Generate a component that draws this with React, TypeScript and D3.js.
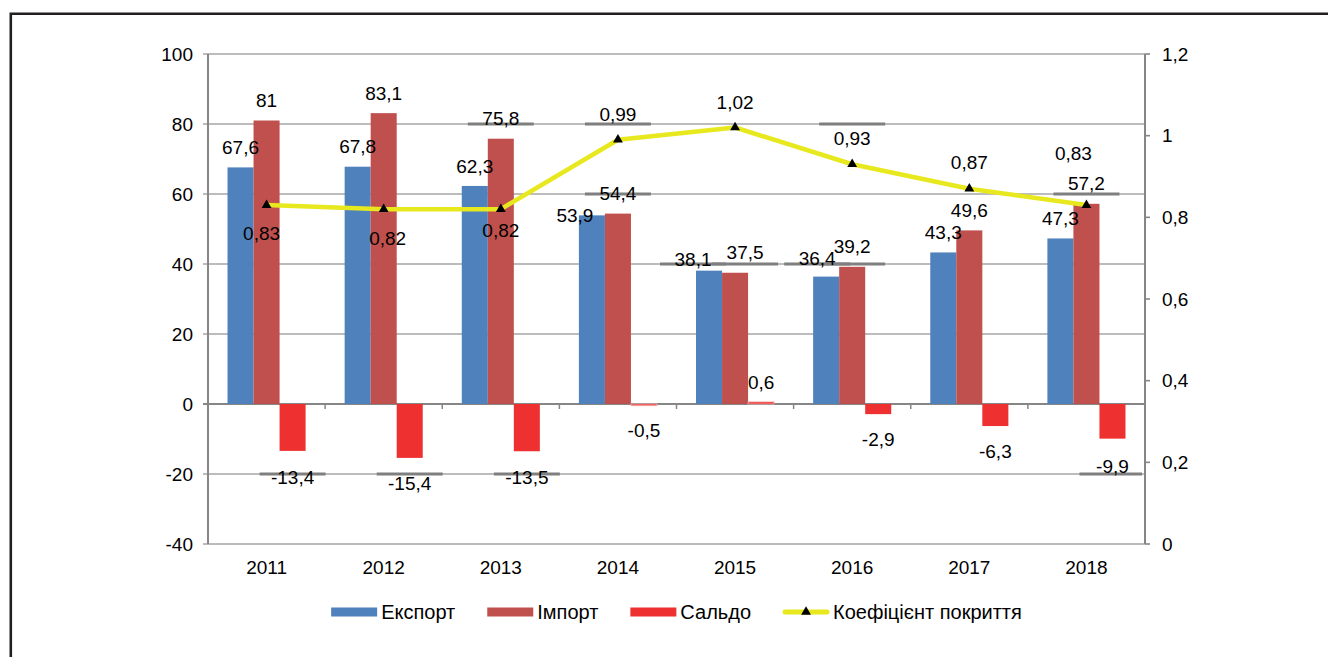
import React from 'react';
import * as d3 from 'd3';

// ---------- data ----------
const years = ['2011', '2012', '2013', '2014', '2015', '2016', '2017', '2018'];
const exportVals = [67.6, 67.8, 62.3, 53.9, 38.1, 36.4, 43.3, 47.3];
const importVals = [81, 83.1, 75.8, 54.4, 37.5, 39.2, 49.6, 57.2];
const saldoVals = [-13.4, -15.4, -13.5, -0.5, 0.6, -2.9, -6.3, -9.9];
const coverageVals = [0.83, 0.82, 0.82, 0.99, 1.02, 0.93, 0.87, 0.83];
const leftTicks = [-40, -20, 0, 20, 40, 60, 80, 100];
const rightTicks = [0, 0.2, 0.4, 0.6, 0.8, 1, 1.2];
const seriesNames = ['Експорт', 'Імпорт', 'Сальдо', 'Коефіцієнт покриття'];

// ---------- layout / style ----------
const W = 1328;
const H = 657;
const PLOT = { left: 208, right: 1145, top: 54, bottom: 544 };
const COLORS = { exp: '#4F81BD', imp: '#C0504D', sal: '#EE3030', line: '#E8E81E', grid: '#A6A6A6', axis: '#868686' };
const FONT = '"Liberation Sans", Arial, Helvetica, sans-serif';
const FS = 19;
const LEGEND_FS = 20;

// label nudges [dx, dy] relative to default placement
const exportNudge: Record<number, [number, number]> = { 3: [-17, 20], 4: [-16, 9], 5: [-9, 2] };
const importNudge: Record<number, [number, number]> = { 4: [10, 0] };
const saldoNudge: Record<number, [number, number]> = { 0: [0, 1], 2: [0, 1], 7: [0, 3] };
const coverageBelow = new Set([0, 1, 2]);
const coverageNudge: Record<number, [number, number]> = { 0: [-5, 3], 1: [4, 4], 2: [0, -4], 5: [0, -1], 6: [0, -1], 7: [-13, -27] };
// labels sitting on a gridline that show a thicker grey segment
const underlined: Record<string, number[]> = {
  exp: [4, 5],
  imp: [2, 3, 4, 5, 7],
  sal: [0, 1, 2, 7],
  cov: [3, 5],
};

const fmt = (v: number) => String(v).replace('.', ',');

export default function App() {
  const x = d3.scaleBand<string>().domain(years).range([PLOT.left, PLOT.right]).paddingInner(0).paddingOuter(0);
  const yL = d3.scaleLinear().domain([-40, 100]).range([PLOT.bottom, PLOT.top]);
  const yR = d3.scaleLinear().domain([0, 1.2]).range([PLOT.bottom, PLOT.top]);
  const bw = x.bandwidth() / 4.5;
  const gOff = bw * 0.75;
  const barX = (i: number, k: number) => (x(years[i]) as number) + gOff + k * bw;

  type Lbl = { key: string; x: number; y: number; text: string; ul: boolean };
  const labels: Lbl[] = [];
  const addBarLabels = (vals: number[], k: number, nudge: Record<number, [number, number]>, key: string) => {
    vals.forEach((v, i) => {
      const cx = barX(i, k) + bw / 2;
      const n = nudge[i] || [0, 0];
      const y = v >= 0 ? yL(v) - 20 : yL(v) + 25;
      labels.push({ key: key + i, x: cx + n[0], y: y + n[1], text: fmt(v), ul: underlined[key].includes(i) });
    });
  };
  addBarLabels(exportVals, 0, exportNudge, 'exp');
  addBarLabels(importVals, 1, importNudge, 'imp');
  addBarLabels(saldoVals, 2, saldoNudge, 'sal');
  coverageVals.forEach((v, i) => {
    const cx = (x(years[i]) as number) + x.bandwidth() / 2;
    const n = coverageNudge[i] || [0, 0];
    const y = coverageBelow.has(i) ? yR(v) + 25 : yR(v) - 25;
    labels.push({ key: 'cov' + i, x: cx + n[0], y: y + n[1], text: fmt(v), ul: underlined.cov.includes(i) });
  });

  const nearestGrid = (py: number) => {
    let best = leftTicks[0];
    leftTicks.forEach((t) => {
      if (Math.abs(yL(t) - py) < Math.abs(yL(best) - py)) best = t;
    });
    return yL(best);
  };

  const linePts: [number, number][] = coverageVals.map((v, i) => [
    (x(years[i]) as number) + x.bandwidth() / 2,
    yR(v),
  ]);
  const lineGen = d3.line().curve(d3.curveLinear);
  const tri = d3.symbol().type(d3.symbolTriangle).size(42)();

  // legend layout
  const canvas = typeof document !== 'undefined' ? document.createElement('canvas') : null;
  const ctx = canvas ? canvas.getContext('2d') : null;
  if (ctx) ctx.font = `${LEGEND_FS}px ${FONT}`;
  const tw = (s: string) => (ctx ? ctx.measureText(s).width : s.length * 10);
  const swW = 46;
  const gapText = 4;
  const gapItem = 32;
  const widths = seriesNames.map((s) => swW + gapText + tw(s));
  const total = d3.sum(widths) + gapItem * (seriesNames.length - 1);
  let lx = (PLOT.left + PLOT.right) / 2 - total / 2;
  const legendY = 612;
  const legendItems = seriesNames.map((s, i) => {
    const item = { name: s, x: lx, i };
    lx += widths[i] + gapItem;
    return item;
  });
  const legendColors = [COLORS.exp, COLORS.imp, COLORS.sal];

  return (
    <svg
      width={W}
      height={H}
      style={{ position: 'absolute', left: 0, top: 0, background: '#fff' }}
      fontFamily={FONT}
      fontSize={FS}
    >
      <rect x={0} y={0} width={W} height={H} fill="#fff" />
      {/* frame */}
      <path d={`M10.8,${H + 10} V13.8 H${W + 10}`} fill="none" stroke="#231F20" strokeWidth={2.6} />

      {/* gridlines */}
      {leftTicks.map((t) => (
        <line key={'g' + t} x1={PLOT.left - 5} x2={PLOT.right} y1={yL(t)} y2={yL(t)} stroke={t === 0 ? COLORS.axis : COLORS.grid} strokeWidth={t === 0 ? 2 : 1.6} />
      ))}

      {/* underline segments near labels */}
      {labels
        .filter((l) => l.ul)
        .map((l) => (
          <line key={'u' + l.key} x1={l.x - 33} x2={Math.min(l.x + 33, PLOT.right - 3)} y1={nearestGrid(l.y)} y2={nearestGrid(l.y)} stroke="#7F7F7F" strokeWidth={3} />
        ))}

      {/* bars */}
      {[exportVals, importVals, saldoVals].map((vals, k) =>
        vals.map((v, i) => (
          <rect
            key={`b${k}-${i}`}
            x={barX(i, k)}
            width={bw}
            y={Math.min(yL(v), yL(0))}
            height={Math.abs(yL(v) - yL(0))}
            fill={[COLORS.exp, COLORS.imp, COLORS.sal][k]}
            stroke={k === 2 && Math.abs(v) < 1 ? '#F5B5B5' : 'none'}
            strokeWidth={0.8}
          />
        ))
      )}

      {/* left axis */}
      <line x1={PLOT.left} x2={PLOT.left} y1={PLOT.top} y2={PLOT.bottom} stroke={COLORS.axis} strokeWidth={2} />
      {leftTicks.map((t) => (
        <text key={'lt' + t} x={PLOT.left - 15} y={yL(t)} dy="0.35em" textAnchor="end">
          {fmt(t)}
        </text>
      ))}
      {/* right axis */}
      <line x1={PLOT.right} x2={PLOT.right} y1={PLOT.top} y2={PLOT.bottom} stroke={COLORS.axis} strokeWidth={2} />
      {rightTicks.map((t) => (
        <g key={'rt' + t}>
          <line x1={PLOT.right} x2={PLOT.right + 5} y1={yR(t)} y2={yR(t)} stroke={COLORS.axis} strokeWidth={1.6} />
          <text x={PLOT.right + 17} y={yR(t)} dy="0.35em" textAnchor="start">
            {fmt(t)}
          </text>
        </g>
      ))}
      {/* category axis ticks at zero line */}
      {years.map((yr) => (
        <line key={'ct' + yr} x1={(x(yr) as number)} x2={(x(yr) as number)} y1={yL(0)} y2={yL(0) + 5} stroke={COLORS.axis} strokeWidth={1.5} />
      ))}
      <line x1={PLOT.right} x2={PLOT.right} y1={yL(0)} y2={yL(0) + 5} stroke={COLORS.axis} strokeWidth={1.5} />
      {years.map((yr) => (
        <text key={'cl' + yr} x={(x(yr) as number) + x.bandwidth() / 2} y={567} dy="0.35em" textAnchor="middle">
          {yr}
        </text>
      ))}

      {/* coverage line */}
      <path d={lineGen(linePts) || ''} fill="none" stroke={COLORS.line} strokeWidth={4.5} strokeLinejoin="round" />
      {linePts.map((p, i) => (
        <path key={'m' + i} d={tri || ''} transform={`translate(${p[0]},${p[1]})`} fill="#000" />
      ))}

      {/* data labels */}
      {labels.map((l) => (
        <text key={'l' + l.key} x={l.x} y={l.y} dy="0.35em" textAnchor="middle" fill="#000">
          {l.text}
        </text>
      ))}

      {/* legend */}
      {legendItems.map((it) => (
        <g key={'lg' + it.i}>
          {it.i < 3 ? (
            <rect x={it.x} y={legendY - 4.5} width={swW} height={9} fill={legendColors[it.i]} />
          ) : (
            <g>
              <line x1={it.x + 2} x2={it.x + swW - 2} y1={legendY} y2={legendY} stroke={COLORS.line} strokeWidth={5} strokeLinecap="round" />
              <path d={tri || ''} transform={`translate(${it.x + swW / 2},${legendY})`} fill="#000" />
            </g>
          )}
          <text x={it.x + swW + gapText} y={legendY} dy="0.35em" textAnchor="start" fontSize={LEGEND_FS}>
            {it.name}
          </text>
        </g>
      ))}
    </svg>
  );
}
